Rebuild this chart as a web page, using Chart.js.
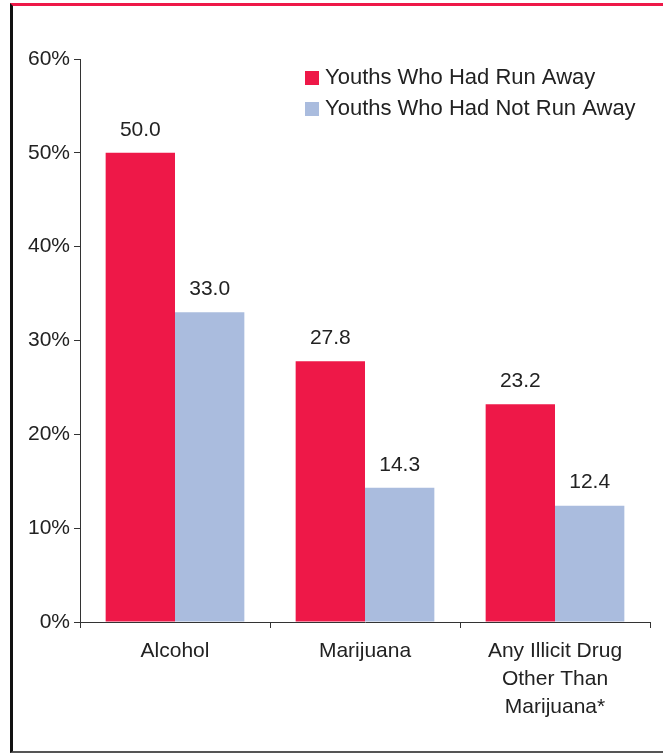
<!DOCTYPE html>
<html>
<head>
<meta charset="utf-8">
<script src="https://cdn.jsdelivr.net/npm/chart.js@4"></script>
<style>
  html, body { margin: 0; padding: 0; background: #fff; }
  #frame {
    position: absolute; left: 10px; top: 3px; width: 660px; height: 750px;
    border-top: 3px solid #ee1848; border-left: 3px solid #111; border-bottom: 2px solid #555;
    box-sizing: border-box;
  }
  #wrap { position: absolute; left: 0; top: 0; width: 663px; height: 756px; }
</style>
</head>
<body>
<div id="frame"></div>
<div id="wrap"><canvas id="chart"></canvas></div>
<script>
// --- data ---
const categories = ['Alcohol', 'Marijuana', ['Any Illicit Drug', 'Other Than', 'Marijuana*']];
const seriesNames = ['Youths Who Had Run Away', 'Youths Who Had Not Run Away'];
const ranAway = [50.0, 27.8, 23.2];
const notRanAway = [33.0, 14.3, 12.4];
const yTicks = [0, 10, 20, 30, 40, 50, 60];

const RED = '#ee1848';
const BLUE = '#aabcde';
const FONT = "'Liberation Sans', Arial, sans-serif";
const SIZE = 21;

// value labels above each bar
const valueLabels = {
  id: 'valueLabels',
  afterDatasetsDraw(chart) {
    const ctx = chart.ctx;
    ctx.save();
    ctx.font = SIZE + 'px ' + FONT;
    ctx.fillStyle = '#222';
    ctx.textAlign = 'center';
    ctx.textBaseline = 'middle';
    chart.data.datasets.forEach((ds, i) => {
      chart.getDatasetMeta(i).data.forEach((bar, j) => {
        ctx.fillText(ds.data[j].toFixed(1), bar.x, bar.y - 23);
      });
    });
    ctx.restore();
  }
};

// legend drawn in the top right of the plot
const boxLegend = {
  id: 'boxLegend',
  afterDraw(chart) {
    const ctx = chart.ctx;
    ctx.save();
    ctx.font = '22px ' + FONT;
    ctx.textBaseline = 'middle';
    ctx.textAlign = 'left';
    chart.data.datasets.forEach((ds, i) => {
      const y = 78 + i * 31;
      ctx.fillStyle = ds.backgroundColor;
      ctx.fillRect(305, y - 7, 14, 14);
      ctx.fillStyle = '#222';
      ctx.fillText(ds.label, 325, y);
    });
    ctx.restore();
  }
};

new Chart(document.getElementById('chart'), {
  type: 'bar',
  data: {
    labels: categories,
    datasets: [
      { label: seriesNames[0], data: ranAway, backgroundColor: RED },
      { label: seriesNames[1], data: notRanAway, backgroundColor: BLUE }
    ]
  },
  options: {
    responsive: true,
    maintainAspectRatio: false,
    animation: false,
    layout: { padding: { top: 59, right: 13, bottom: 0, left: 0 } },
    plugins: { legend: { display: false }, tooltip: { enabled: false } },
    datasets: { bar: { categoryPercentage: 0.73, barPercentage: 1.0 } },
    scales: {
      y: {
        min: 0,
        max: 60,
        afterFit(scale) { scale.width = 80; },
        afterBuildTicks(scale) { scale.ticks = yTicks.map(v => ({ value: v })); },
        ticks: {
          callback: v => v + '%',
          font: { family: FONT, size: SIZE },
          color: '#222',
          padding: 4
        },
        grid: { drawOnChartArea: false, tickLength: 6, color: '#333' },
        border: { color: '#333', width: 1 }
      },
      x: {
        afterFit(scale) { scale.height = 134; },
        ticks: {
          font: { family: FONT, size: SIZE, lineHeight: 1.333 },
          color: '#222',
          padding: 9,
          maxRotation: 0
        },
        grid: { offset: true, drawOnChartArea: false, tickLength: 6, color: '#333' },
        border: { color: '#333', width: 1 }
      }
    }
  },
  plugins: [valueLabels, boxLegend]
});
</script>
</body>
</html>
